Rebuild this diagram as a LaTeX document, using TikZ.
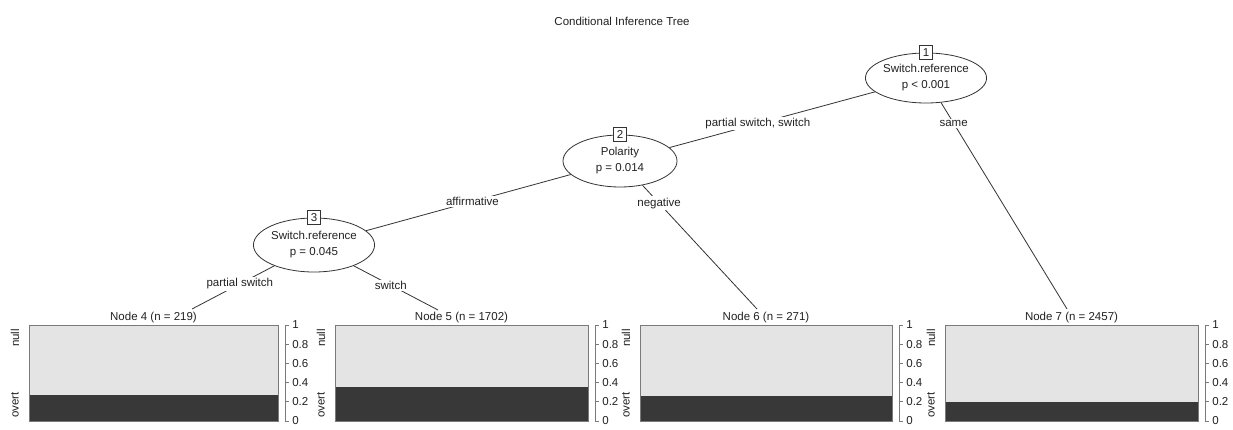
\documentclass[tikz,border=0pt]{standalone}
\usepackage{fontspec}
\setmainfont{Liberation Sans}
\usetikzlibrary{shapes.geometric}
\definecolor{inkc}{HTML}{222222}
\definecolor{linec}{HTML}{333333}
\definecolor{lightbar}{HTML}{E4E4E4}
\definecolor{darkbar}{HTML}{383838}
\definecolor{borderc}{HTML}{7A7A7A}
\tikzset{
  every node/.style={text=inkc, font=\fontsize{11.5}{16}\selectfont},
  splitnode/.style={ellipse, draw=linec, line width=0.8pt, fill=white, inner sep=0pt, align=center},
  numbox/.style={rectangle, draw=linec, line width=0.7pt, fill=white, inner sep=0pt, minimum width=13pt, minimum height=14pt},
  edge/.style={draw=linec, line width=0.8pt},
  lbl/.style={fill=white, inner sep=1.5pt},
  titlelbl/.style={inner sep=1pt},
  ticklbl/.style={inner sep=0pt, anchor=west, xshift=3pt},
  catlbl/.style={rotate=90, inner sep=1pt},
  axisline/.style={draw=borderc, line width=0.7pt},
  panelborder/.style={draw=borderc, line width=0.7pt},
}
\newcommand\mkleaf[5]{%
  \pgfmathsetmacro\lx{#1}%
  \pgfmathsetmacro\rx{#2}%
  \pgfmathsetmacro\dy{421-96*#3}%
  \pgfmathsetmacro\cx{(#1+#2)/2}%
  \pgfmathsetmacro\ax{#2+7}%
  \fill[lightbar] (\lx,325) rectangle (\rx,\dy);
  \fill[darkbar] (\lx,\dy) rectangle (\rx,421);
  \draw[panelborder] (\lx,325) rectangle (\rx,421);
  \draw[axisline] (\ax,325) -- (\ax,421);
  \foreach \v/\t [count=\i] in {0/0,0.2/0.2,0.4/0.4,0.6/0.6,0.8/0.8,1/1} {
    \pgfmathsetmacro\ty{421-96*\v}
    \draw[axisline] (\ax,\ty) -- ++(4,0) node[ticklbl] (tk#4-\i) {\t};
  }
  \node[titlelbl] (t#4) at (\cx,318) {Node #4 (n = #5)};
  \node[catlbl] (null#4) at (#1-14,338) {null};
  \node[catlbl] (overt#4) at (#1-14,405) {overt};
}
\begin{document}
\begin{tikzpicture}[x=1pt,y=-1pt]
\useasboundingbox (0,0) rectangle (1233,430);
\fill[white] (0,0) rectangle (1233,430);

\node (title) at (622,21) {Conditional Inference Tree};

% inner nodes
\node[splitnode, minimum width=112pt, minimum height=50pt] (n1) at (926,78) {Switch.reference\\p < 0.001};
\node[splitnode, minimum width=114pt, minimum height=52pt] (n2) at (620,161) {Polarity\\p = 0.014};
\node[splitnode, minimum width=108pt, minimum height=54pt] (n3) at (314,245) {Switch.reference\\p = 0.045};

% leaf edge end points
\coordinate (e4) at (192,309);
\coordinate (e5) at (438,310);
\coordinate (e6) at (757,309);
\coordinate (e7) at (1067,309);

% edges
\draw[edge] (n1) -- node[lbl, pos=0.57] (l12) {partial switch, switch} (n2);
\draw[edge] (n1) -- node[lbl, pos=0.10] (l17) {same} (e7);
\draw[edge] (n2) -- node[lbl, pos=0.48] (l23) {affirmative} (n3);
\draw[edge] (n2) -- node[lbl, pos=0.145] (l26) {negative} (e6);
\draw[edge] (n3) -- node[lbl, pos=0.42] (l34) {partial switch} (e4);
\draw[edge] (n3) -- node[lbl, pos=0.44] (l35) {switch} (e5);

% number boxes
\node[numbox] (b1) at (n1.north) {1};
\node[numbox] (b2) at (n2.north) {2};
\node[numbox] (b3) at (n3.north) {3};

% leaves
\mkleaf{29}{278}{0.27}{4}{219}
\mkleaf{335}{588}{0.354}{5}{1702}
\mkleaf{640}{892}{0.26}{6}{271}
\mkleaf{945}{1198}{0.198}{7}{2457}
\end{tikzpicture}
\end{document}
